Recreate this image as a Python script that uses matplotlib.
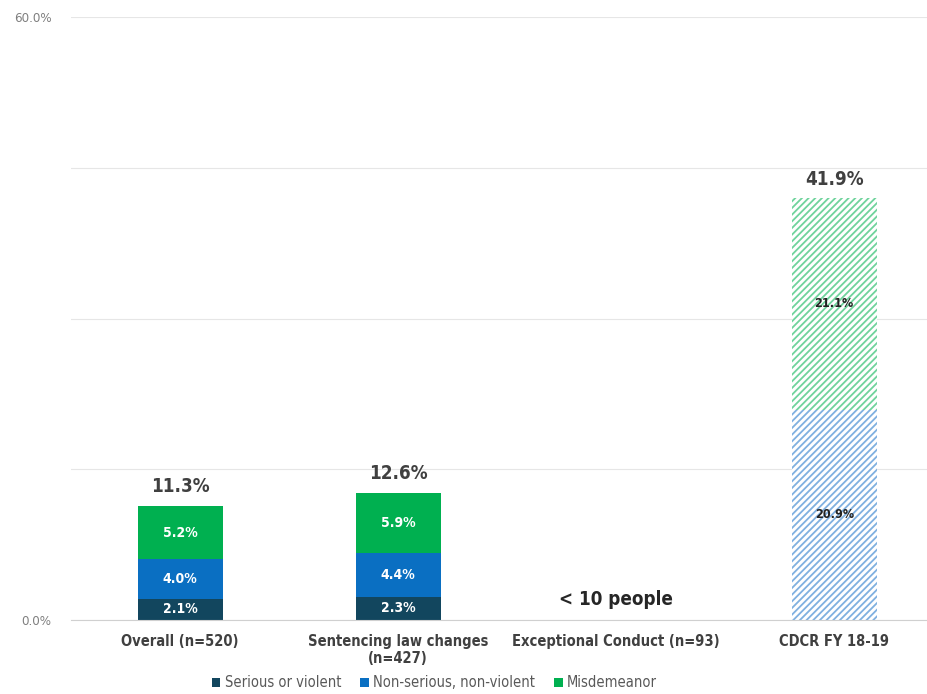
import matplotlib.pyplot as plt
import numpy as np
from matplotlib.patches import Patch

plt.rcParams['font.family'] = ['DejaVu Sans']
plt.rcParams['font.stretch'] = 'condensed'
plt.rcParams['hatch.linewidth'] = 1.3

categories = ['Overall (n=520)', 'Sentencing law changes\n(n=427)',
              'Exceptional Conduct (n=93)', 'CDCR FY 18-19']
series_names = ['Serious or violent', 'Non-serious, non-violent', 'Misdemeanor']
serious = [2.1, 2.3, 0.0, 0.0]
nonserious = [4.0, 4.4, 0.0, 20.9]
misdemeanor = [5.2, 5.9, 0.0, 21.1]
totals = [11.3, 12.6, None, 41.9]
hatched = [False, False, False, True]
note_text = '< 10 people'

colors = ['#12465e', '#0a6fc2', '#00b050']
light = ['#7fb0e0', '#7fb0e0', '#6fd39c']

fig = plt.figure(figsize=(9.28, 6.94), dpi=100)
ax = fig.add_axes([71/928, 74/694, 857/928, 603/694])

x = np.arange(len(categories))
width = 0.39
bottom = np.zeros(len(categories))
for vals, c, lc in zip([serious, nonserious, misdemeanor], colors, light):
    for i, v in enumerate(vals):
        if v <= 0:
            continue
        if hatched[i]:
            ax.bar(x[i], v, width, bottom=bottom[i], facecolor='white',
                   edgecolor=lc, hatch='/////', linewidth=0, zorder=2)
            ax.text(x[i], bottom[i] + v/2, f'{v:.1f}%', ha='center', va='center',
                    fontsize=9, fontweight='bold', color='#222222', zorder=3)
        else:
            ax.bar(x[i], v, width, bottom=bottom[i], color=c, linewidth=0, zorder=2)
            ax.text(x[i], bottom[i] + v/2, f'{v:.1f}%', ha='center', va='center',
                    fontsize=10, fontweight='bold', color='white', zorder=3)
    bottom += np.array(vals)

for i, t in enumerate(totals):
    if t is not None:
        ax.text(x[i], t + 1.0, f'{t:.1f}%', ha='center', va='bottom',
                fontsize=13.5, fontweight='bold', color='#404040')
ax.text(x[2], 2.0, note_text, ha='center', va='center',
        fontsize=13.5, fontweight='bold', color='#262626')

ax.set_xlim(-0.5, 3.43)
ax.set_ylim(0, 60)
ax.set_yticks([0, 15, 30, 45, 60])
ax.set_yticklabels(['0.0%', '', '', '', '60.0%'], fontsize=9.5, color='#7f7f7f')
ax.tick_params(axis='y', length=0, pad=14)
ax.grid(axis='y', color='#e6e6e6', linewidth=0.8, zorder=0)
ax.set_xticks(x)
ax.set_xticklabels(categories, fontsize=10.5, fontweight='bold', color='#404040')
ax.tick_params(axis='x', length=0, pad=10)
for s in ['top', 'right', 'left']:
    ax.spines[s].set_visible(False)
ax.spines['bottom'].set_color('#d0d0d0')

handles = [Patch(facecolor=c, edgecolor='none') for c in colors]
fig.legend(handles, series_names, loc='center', bbox_to_anchor=(0.468, 0.016),
           ncol=3, frameon=False, fontsize=10.5, handlelength=0.6, handleheight=0.6,
           handletextpad=0.3, columnspacing=1.3, labelcolor='#595959')

fig.savefig('out.png', dpi=100)
